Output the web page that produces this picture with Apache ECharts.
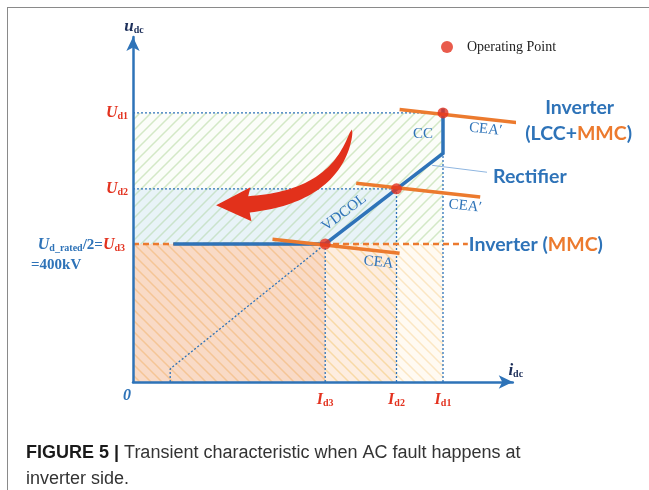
<!DOCTYPE html>
<html>
<head>
<meta charset="utf-8">
<script src="https://cdn.jsdelivr.net/npm/echarts@6/dist/echarts.min.js"></script>
<style>
html,body{margin:0;padding:0;background:#fff;overflow:hidden;}
#frame{position:absolute;left:7px;top:7px;width:700px;height:600px;border-left:1.5px solid #8a8a8a;border-top:1.5px solid #8a8a8a;}
#demo{position:absolute;left:0;top:0;width:649px;height:490px;}
</style>
</head>
<body>
<div id="frame"></div>
<div id="demo"></div>
<script>
// 电流用 Id1 的标幺值, 电压单位 kV
var xMax = 1.225, yMax = 1000;
// 横轴刻度 Id3 Id2 Id1
var idNames = ['d3', 'd2', 'd1'];
var idValues = [0.62, 0.85, 1.0];
// 纵轴刻度 Ud3 Ud2 Ud1
var udNames = ['d3', 'd2', 'd1'];
var udValues = [400, 560, 780];
// 运行点
var opX = [0.62, 0.85, 1.0];
var opY = [400, 560, 780];
// 整流侧特性 VDCOL + CC
var rectX = [0.13, 0.62, 1.0, 1.0];
var rectY = [400, 400, 663, 793];
// 逆变侧 CEA 特性 (下, 中, 上)
var ceaX = [[0.45, 0.86], [0.72, 1.12], [0.86, 1.26]];
var ceaY = [[414, 373], [576, 536], [790, 750]];
var ceaText = ['CEA', 'CEA′', 'CEA′'];
// MMC 定电压线
var mmcX = [0, 1.08];
var mmcY = [400, 400];
// 斜的辅助虚线
var diagX = [0.12, 0.12, 0.62];
var diagY = [0, 38, 400];
// Rectifier 引线
var leaderX = [0.965, 1.142];
var leaderY = [628, 608];
// 背景区域 x0 x1 y0 y1, 第5个是填充类型
var areaX0 = [0, 0, 0, 0.62, 0.85];
var areaX1 = [1.0, 0.85, 0.62, 0.85, 1.0];
var areaY0 = [400, 400, 0, 0, 0];
var areaY1 = [780, 560, 400, 400, 400];
var areaKind = [0, 1, 2, 3, 4];
// 红色箭头 尾, 控制点, 头部根部, 箭尖
var arrowX = [0.706, 0.661, 0.374, 0.268];
var arrowY = [732, 538, 515, 512];

var BLUE = '#2e73b8', RED = '#e3321f', ORANGE = '#ec7a2e';
var serif = '"Liberation Serif", "DejaVu Serif", serif';
var sans = 'Lato, "Open Sans", sans-serif';
var capFont = '"Liberation Sans", Arial, sans-serif';

// 斜线填充
function hatch(bg, line, dir) {
    var s = 11;
    var c = document.createElement('canvas');
    c.width = s; c.height = s;
    var g = c.getContext('2d');
    g.fillStyle = bg; g.fillRect(0, 0, s, s);
    g.strokeStyle = line; g.lineWidth = 1.5;
    g.beginPath();
    if (dir > 0) {
        g.moveTo(-2, s + 2); g.lineTo(s + 2, -2);
        g.moveTo(-2, 2); g.lineTo(2, -2);
        g.moveTo(s - 2, s + 2); g.lineTo(s + 2, s - 2);
    } else {
        g.moveTo(-2, -2); g.lineTo(s + 2, s + 2);
        g.moveTo(s - 2, -2); g.lineTo(s + 2, 2);
        g.moveTo(-2, s - 2); g.lineTo(2, s + 2);
    }
    g.stroke();
    return {image: c, repeat: 'repeat'};
}
var fills = [
    hatch('#fbfdf9', '#d3e8c6', 1),
    hatch('#e8f3f8', '#cae3cc', 1),
    hatch('#f9dac6', '#f5c596', -1),
    hatch('#fdede0', '#f8d9a6', -1),
    hatch('#fffaf2', '#fbe6c3', -1)
];

var areaData = [];
for (var i = 0; i < areaX0.length; i++) {
    areaData.push([areaX0[i], areaY0[i], areaX1[i], areaY1[i], areaKind[i]]);
}
function pairs(xs, ys) {
    var out = [];
    for (var i = 0; i < xs.length; i++) out.push([xs[i], ys[i]]);
    return out;
}

// 文字样式
function sub(color, size) {
    return {fill: color, fontFamily: serif, fontWeight: 'bold', fontSize: size || 10, padding: [7, 0, 0, 0]};
}
function ital(color, size) {
    return {fill: color, fontFamily: serif, fontStyle: 'italic', fontWeight: 'bold', fontSize: size || 16};
}
var richU = {
    U: ital(RED), s: sub(RED),
    Ub: ital(BLUE), sb: sub(BLUE),
    n: {fill: BLUE, fontFamily: serif, fontWeight: 'bold', fontSize: 15},
    k: ital('#1d2f5a', 17), ks: sub('#1d2f5a', 10)
};
var serifTxt = {fill: BLUE, fontFamily: serif, fontSize: 15};
var bigTxt = {fill: BLUE, fontFamily: sans, fontWeight: 'bold', fontSize: 19.5};
var richBig = {b: bigTxt, o: {fill: ORANGE, fontFamily: sans, fontWeight: 'bold', fontSize: 19.5}};

var labels = [];
labels.push({at: [0, yMax], dx: 1, dy: -10, text: '{k|u}{ks|dc}', align: 'center', rich: richU});
labels.push({at: [xMax, 0], dx: 3, dy: -11, text: '{k|i}{ks|dc}', align: 'center', rich: richU});
labels.push({at: [0, 0], dx: -6, dy: 14, text: '{Ub|0}', align: 'center', rich: richU});
for (var i = 0; i < idValues.length; i++) {
    labels.push({at: [idValues[i], 0], dx: 0, dy: 18, text: '{U|I}{s|' + idNames[i] + '}', align: 'center', rich: richU});
}
for (var i = 1; i < udValues.length; i++) {
    labels.push({at: [0, udValues[i]], dx: -5, dy: 0, text: '{U|U}{s|' + udNames[i] + '}', align: 'right', rich: richU});
}
labels.push({at: [0, udValues[0]], dx: -8, dy: 1, text: '{Ub|U}{sb|d_rated}{n|/2=}{U|U}{s|' + udNames[0] + '}', align: 'right', rich: richU});
labels.push({at: [0, udValues[0]], dx: -102, dy: 21, text: '{n|=400kV}', align: 'left', rich: richU});
labels.push({at: [rectX[2], (rectY[2] + rectY[3]) / 2], dx: -20, dy: 3, text: 'CC', align: 'center', style: serifTxt});
labels.push({at: [(rectX[1] + rectX[2]) / 2, (rectY[1] + rectY[2]) / 2], dx: -40, dy: 14, text: 'VDCOL', align: 'center', style: serifTxt, rot: 37});
var ceaDx = [-21, -15, -38], ceaDy = [9, 9, 6];
for (var i = 0; i < ceaText.length; i++) {
    labels.push({at: [ceaX[i][1], ceaY[i][1]], dx: ceaDx[i], dy: ceaDy[i], text: ceaText[i], align: 'center', style: serifTxt, rot: -6});
}
labels.push({at: [ceaX[2][1], ceaY[2][1]], dx: 56, dy: -16, text: '{b|Inverter}', align: 'center', rich: richBig});
labels.push({at: [ceaX[2][1], ceaY[2][1]], dx: 55, dy: 10, text: '{b|(LCC+}{o|MMC}{b|)}', align: 'center', rich: richBig});
labels.push({at: [leaderX[1], leaderY[1]], dx: 6, dy: 4, text: '{b|Rectifier}', align: 'left', rich: richBig});
labels.push({at: [mmcX[1], mmcY[1]], dx: 1, dy: 1, text: '{b|Inverter (}{o|MMC}{b|)}', align: 'left', rich: richBig});

var chartDom = document.getElementById('demo');
var myChart = echarts.init(chartDom);
var option = {
    animation: false,
    title: {
        left: 21,
        top: 435,
        text: '{b|FIGURE 5 | }{n|Transient characteristic when AC fault happens at}\n{n|inverter side.}',
        textStyle: {
            rich: {
                b: {fontFamily: capFont, fontWeight: 'bold', fontSize: 18, color: '#1a1a1a', lineHeight: 26},
                n: {fontFamily: capFont, fontWeight: 'normal', fontSize: 18, color: '#333', lineHeight: 26}
            }
        }
    },
    legend: {
        left: 436,
        top: 35,
        icon: 'circle',
        itemWidth: 12,
        itemHeight: 12,
        itemGap: 5,
        data: ['Operating Point'],
        textStyle: {fontFamily: serif, fontSize: 14, color: '#222', padding: [0, 0, 0, 9]}
    },
    grid: {left: 133, top: 37, width: xMax * 310, height: 345},
    xAxis: {
        type: 'value', min: 0, max: xMax, z: 5,
        axisLine: {lineStyle: {color: BLUE, width: 2.5}, symbol: ['none', 'arrow'], symbolSize: [10, 14]},
        axisTick: {show: false}, axisLabel: {show: false}, splitLine: {show: false}
    },
    yAxis: {
        type: 'value', min: 0, max: yMax, z: 5,
        axisLine: {lineStyle: {color: BLUE, width: 2.5}, symbol: ['none', 'arrow'], symbolSize: [10, 14]},
        axisTick: {show: false}, axisLabel: {show: false}, splitLine: {show: false}
    },
    series: [
        {
            type: 'custom', z: 1, silent: true,
            data: areaData,
            renderItem: function (params, api) {
                var p0 = api.coord([api.value(0), api.value(1)]);
                var p1 = api.coord([api.value(2), api.value(3)]);
                return {
                    type: 'rect',
                    shape: {x: Math.min(p0[0], p1[0]), y: Math.min(p0[1], p1[1]),
                        width: Math.abs(p1[0] - p0[0]), height: Math.abs(p1[1] - p0[1])},
                    style: {fill: fills[api.value(4)]}
                };
            }
        },
        // 蓝色点线
        {type: 'line', z: 2, clip: false, symbol: 'none', data: [[0, udValues[2]], [idValues[2], udValues[2]]], lineStyle: {color: BLUE, width: 1.3, type: [2, 2]}},
        {type: 'line', z: 2, clip: false, symbol: 'none', data: [[0, udValues[1]], [idValues[1], udValues[1]]], lineStyle: {color: BLUE, width: 1.3, type: [2, 2]}},
        {type: 'line', z: 2, clip: false, symbol: 'none', data: [[idValues[2], 0], [idValues[2], udValues[2]]], lineStyle: {color: BLUE, width: 1.3, type: [2, 2]}},
        {type: 'line', z: 2, clip: false, symbol: 'none', data: [[idValues[1], 0], [idValues[1], udValues[1]]], lineStyle: {color: BLUE, width: 1.3, type: [2, 2]}},
        {type: 'line', z: 2, clip: false, symbol: 'none', data: [[idValues[0], 0], [idValues[0], udValues[0]]], lineStyle: {color: BLUE, width: 1.3, type: [2, 2]}},
        {type: 'line', z: 2, clip: false, symbol: 'none', data: pairs(diagX, diagY), lineStyle: {color: BLUE, width: 1.3, type: [2, 2]}},
        {type: 'line', z: 2, clip: false, symbol: 'none', data: pairs(leaderX, leaderY), lineStyle: {color: '#8fb6e0', width: 1}},
        // MMC 橙色虚线
        {type: 'line', z: 3, clip: false, symbol: 'none', data: pairs(mmcX, mmcY), lineStyle: {color: ORANGE, width: 2.5, type: [6, 4]}},
        // 整流侧特性
        {type: 'line', z: 4, clip: false, symbol: 'none', data: pairs(rectX, rectY), lineStyle: {color: BLUE, width: 3.5, cap: 'butt', join: 'miter'}},
        // CEA
        {type: 'line', z: 4, clip: false, symbol: 'none', data: pairs(ceaX[0], ceaY[0]), lineStyle: {color: ORANGE, width: 3.5}},
        {type: 'line', z: 4, clip: false, symbol: 'none', data: pairs(ceaX[1], ceaY[1]), lineStyle: {color: ORANGE, width: 3.5}},
        {type: 'line', z: 4, clip: false, symbol: 'none', data: pairs(ceaX[2], ceaY[2]), lineStyle: {color: ORANGE, width: 3.5}},
        // 红色箭头
        {
            type: 'custom', z: 4, silent: true,
            data: [[arrowX[0], arrowY[0]]],
            renderItem: function (params, api) {
                var p0 = api.coord([arrowX[0], arrowY[0]]);
                var p1 = api.coord([arrowX[1], arrowY[1]]);
                var p2 = api.coord([arrowX[2], arrowY[2]]);
                var tip = api.coord([arrowX[3], arrowY[3]]);
                var left = [], right = [];
                var n = 40;
                for (var i = 0; i <= n; i++) {
                    var t = i / n, a = 1 - t;
                    var x = a * a * p0[0] + 2 * a * t * p1[0] + t * t * p2[0];
                    var y = a * a * p0[1] + 2 * a * t * p1[1] + t * t * p2[1];
                    var dx = 2 * a * (p1[0] - p0[0]) + 2 * t * (p2[0] - p1[0]);
                    var dy = 2 * a * (p1[1] - p0[1]) + 2 * t * (p2[1] - p1[1]);
                    var len = Math.sqrt(dx * dx + dy * dy);
                    var w = 8.2 * Math.sqrt(t);
                    left.push([x - dy / len * w, y + dx / len * w]);
                    right.push([x + dy / len * w, y - dx / len * w]);
                }
                var hx = tip[0] - p2[0], hy = tip[1] - p2[1];
                var hl = Math.sqrt(hx * hx + hy * hy);
                var hw = 17;
                var pts = left.slice();
                pts.push([p2[0] - hy / hl * hw + 2, p2[1] + hx / hl * hw]);
                pts.push(tip);
                pts.push([p2[0] + hy / hl * hw + 2, p2[1] - hx / hl * hw]);
                pts = pts.concat(right.reverse());
                return {type: 'polygon', shape: {points: pts}, style: {fill: '#e2311b'}};
            }
        },
        // 运行点
        {
            name: 'Operating Point', type: 'scatter', z: 6, clip: false,
            symbolSize: 11, data: pairs(opX, opY),
            itemStyle: {color: RED}
        },
        // 文字
        {
            type: 'custom', z: 7, silent: true,
            data: labels.map(function (l, i) { return [l.at[0], l.at[1], i]; }),
            renderItem: function (params, api) {
                var l = labels[api.value(2)];
                var p = api.coord([api.value(0), api.value(1)]);
                var st = {text: l.text, align: l.align, verticalAlign: 'middle'};
                if (l.rich) { st.rich = l.rich; }
                if (l.style) {
                    st.fill = l.style.fill; st.fontFamily = l.style.fontFamily;
                    st.fontSize = l.style.fontSize;
                }
                return {
                    type: 'text', x: p[0] + l.dx, y: p[1] + l.dy,
                    rotation: (l.rot || 0) * Math.PI / 180,
                    style: st
                };
            }
        }
    ]
};
option && myChart.setOption(option);
</script>
</body>
</html>
